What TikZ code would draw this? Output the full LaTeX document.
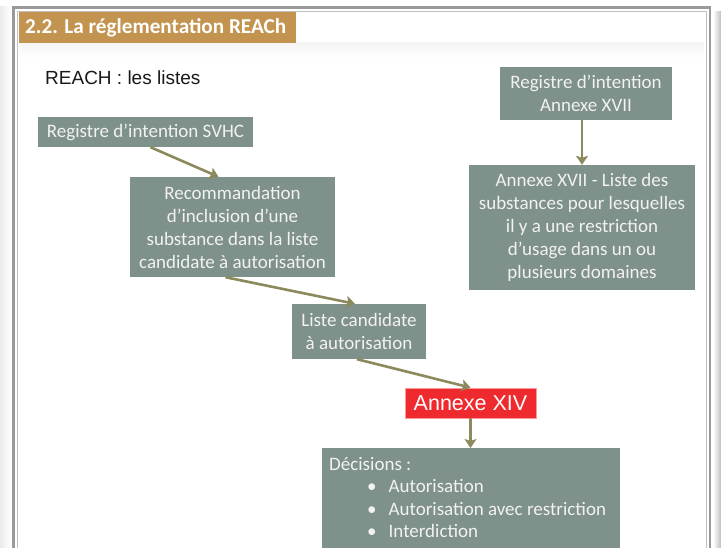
\documentclass[tikz,border=0pt]{standalone}
\usepackage{fontspec}
\setmainfont{Carlito}
\newfontfamily\arialfont{Liberation Sans}
\usetikzlibrary{arrows.meta}
\definecolor{boxgray}{HTML}{7F918B}
\definecolor{boxtext}{HTML}{F2F2F0}
\definecolor{olive}{HTML}{8C8A5C}
\definecolor{tan}{HTML}{C2944F}
\definecolor{alertred}{HTML}{EE2A2E}
\definecolor{framegray}{HTML}{9A9A9A}
\begin{document}
\begin{tikzpicture}[x=1pt,y=-1pt,
  box/.style={fill=boxgray, text=boxtext, inner sep=0pt, align=center,
    font=\fontsize{19}{23}\selectfont},
  link/.style={draw=olive, line width=2.6pt,
    -{Stealth[length=9pt,width=12pt,inset=2pt]}}]
  % page and frame
  \useasboundingbox (0,0) rectangle (721,548);
  \fill[white] (0,0) rectangle (721,548);
  \shade[left color=white, right color=black!25] (713,12) rectangle (721,548);
  \shade[left color=black!8, right color=white] (0,7) rectangle (11,548);
  \draw[framegray, line width=2.4pt] (13.5,560) |- (710,7.5) -- (710,560);
  \draw[black!25, line width=0.8pt] (17.5,560) |- (706,11) -- (706,560);
  \shade[top color=black!4, bottom color=white] (19,43) rectangle (704,58);
  % heading
  \fill[tan] (19,12) rectangle (296,43);
  \node[anchor=west, text=white, inner sep=0pt,
    font=\bfseries\fontsize{21.2}{24}\selectfont] (title) at (25,28)
    {2.2. La réglementation REACh};
  \node[anchor=west, inner sep=0pt, text=black!90,
    font=\arialfont\fontsize{19}{22}\selectfont] (sub) at (45,78)
    {REACH : les listes};
  % left chain
  \node[box, minimum width=215pt, minimum height=30pt] (svhc) at (145.5,132)
    {Registre d’intention SVHC};
  \node[box, minimum width=205pt, minimum height=100pt] (reco) at (232.5,227)
    {Recommandation\\d’inclusion d’une\\substance dans la liste\\candidate à autorisation};
  \node[box, minimum width=134pt, minimum height=55pt] (cand) at (359,331.5)
    {Liste candidate\\à autorisation};
  \node[fill=alertred, draw=red!40, line width=0.8pt, text=white, inner sep=0pt,
    minimum width=131pt, minimum height=30pt,
    font=\arialfont\fontsize{21.5}{24}\selectfont] (ann14) at (470.5,403)
    {Annexe XIV};
  \node[box, minimum width=298pt, minimum height=112pt,
    anchor=north west] (dec) at (322,448) {};
  \node[anchor=north west, inner sep=0pt, text=boxtext, align=left,
    font=\fontsize{19}{22.5}\selectfont] (dectext) at (329,457)
    {Décisions :\\
     \hspace*{38pt}\textbullet\hspace{12pt}Autorisation\\
     \hspace*{38pt}\textbullet\hspace{12pt}Autorisation avec restriction\\
     \hspace*{38pt}\textbullet\hspace{12pt}Interdiction};
  % right chain
  \node[box, minimum width=172pt, minimum height=53pt] (reg17) at (586,93.5)
    {Registre d’intention\\Annexe XVII};
  \node[box, minimum width=226pt, minimum height=125pt] (ann17) at (582,227.5)
    {Annexe XVII - Liste des\\substances pour lesquelles\\il y a une restriction\\d’usage dans un ou\\plusieurs domaines};
  % connectors
  \draw[link] ([xshift=5pt]svhc.south) -- ([xshift=-14pt]reco.north);
  \draw[link] ([xshift=-7pt]reco.south) -- ([xshift=-4pt]cand.north);
  \draw[link] ([xshift=-2pt]cand.south) -- (ann14.north);
  \draw[link] (ann14.south) -- (ann14.south |- dec.north);
  \draw[link] ([xshift=-4pt]reg17.south) -- ([xshift=-4pt]reg17.south |- ann17.north);
\end{tikzpicture}
\end{document}
